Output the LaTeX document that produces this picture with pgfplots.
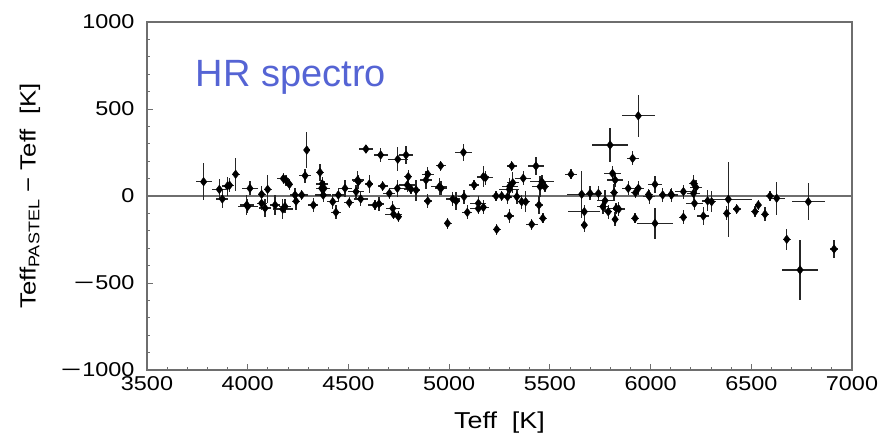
\documentclass[border=0pt]{standalone}
\usepackage{pgfplots}
\pgfplotsset{compat=1.18}
\usepackage{pgfplotstable}
\usepackage{fontspec}
\setmainfont{Liberation Sans}
\newfontfamily\labfont{Liberation Sans}[FakeStretch=1.17]
\definecolor{titleblue}{RGB}{85,100,212}
\definecolor{axgray}{RGB}{110,110,110}
\newcommand{\mn}{\scalebox{1.5}[1]{−}\kern1pt}
\pgfplotstableread{
x y ex ey
3781 82 40 105
3859 38 35 60
3874 -17 30 50
3899 57 25 55
3910 62 20 40
3940 125 20 95
3995 -52 35 60
4000 -60 50 40
4011 44 40 40
4069 10 20 50
4069 -42 25 40
4086 -70 30 50
4099 38 20 80
4136 -52 25 60
4174 -75 50 60
4185 -60 30 40
4177 100 30 30
4190 90 20 30
4207 67 20 30
4235 6 25 40
4240 -30 20 50
4268 6 30 30
4285 117 30 40
4293 264 15 105
4326 -52 25 40
4359 136 20 50
4367 44 30 50
4375 5 40 40
4379 44 30 40
4370 70 30 40
4422 -33 30 40
4438 -94 25 40
4450 6 30 40
4483 44 35 50
4504 -38 25 30
4538 25 40 40
4546 92 30 50
4549 82 25 40
4561 -17 35 40
4587 270 35 25
4604 69 20 50
4632 -52 35 30
4652 -45 25 40
4660 236 35 40
4670 57 25 30
4703 15 30 30
4720 -71 35 40
4724 -105 40 30
4743 44 40 50
4745 211 50 70
4748 -119 20 30
4786 236 35 50
4792 63 40 40
4797 111 20 40
4810 40 35 30
4836 34 20 60
4885 92 30 50
4894 125 30 40
4894 -29 20 40
4951 53 40 50
4958 174 25 30
4960 45 30 40
4992 -157 20 30
5018 -17 35 40
5035 -29 20 50
5071 251 40 50
5074 -4 30 40
5090 -94 25 40
5124 63 25 30
5145 -42 40 40
5145 -72 40 30
5170 111 30 60
5180 105 40 40
5170 -65 30 40
5233 0 20 30
5236 -192 20 30
5261 0 20 30
5290 -5 20 40
5299 38 50 50
5300 55 40 50
5299 -115 25 40
5311 172 25 30
5316 76 30 60
5336 -4 20 40
5360 -33 25 40
5368 102 40 40
5380 -33 20 60
5410 -163 30 30
5431 172 40 50
5446 -52 20 50
5451 54 40 60
5460 82 60 40
5465 -128 20 30
5475 54 20 30
5605 125 30 30
5658 10 75 135
5671 -90 80 40
5671 -167 15 40
5700 15 20 40
5741 15 20 40
5763 -61 30 40
5774 -27 40 60
5790 -90 20 40
5799 293 90 96
5811 130 40 40
5819 19 20 50
5824 92 40 40
5824 -134 15 40
5829 -71 40 30
5842 -75 30 40
5889 44 30 40
5911 216 30 40
5923 -128 20 30
5925 19 20 30
5939 44 30 40
5939 461 83 120
5994 -4 30 40
5990 8 20 30
6022 67 35 50
6022 -157 90 90
6060 6 20 40
6104 6 30 40
6102 10 20 30
6163 25 40 40
6163 -122 20 40
6213 73 20 50
6225 50 30 40
6213 15 30 40
6218 -42 40 40
6262 -115 30 50
6283 -28 30 60
6303 -33 20 60
6378 -100 20 40
6386 -19 116 215
6428 -75 20 30
6519 -90 20 30
6535 -52 15 30
6568 -105 20 40
6593 0 20 30
6626 -13 40 96
6676 -249 20 60
6742 -425 91 172
6783 -33 83 105
6911 -305 20 50
}\datatable
\begin{document}
\begin{tikzpicture}
\begin{axis}[
  scale only axis,
  width=705pt, height=348pt,
  xmin=3500, xmax=7000, ymin=-1000, ymax=1000,
  xtick={3500,4000,...,7000},
  ytick={-1000,-500,0,500,1000},
  yticklabels={\mn1000,\mn500,0,500,1000},
  xticklabels={3500,4000,4500,5000,5500,6000,6500,7000},
  minor tick num=4,
  tick align=inside,
  xtick pos=bottom, ytick pos=left,
  major tick length=6pt, minor tick length=3.5pt,
  tick style={axgray, line width=0.9pt},
  axis line style={axgray, line width=1.4pt},
  ticklabel style={font=\labfont\fontsize{20}{24}\selectfont},
  xticklabel style={yshift=-3pt},
  yticklabel style={xshift=-9pt},
  /pgf/number format/assume math mode=true,
  every axis x label/.style={at={(axis description cs:0.5,-0.1523)}, anchor=center, font=\labfont\fontsize{23}{26}\selectfont},
  every axis y label/.style={at={(axis description cs:-0.166,0.5)}, rotate=90, anchor=center, font=\labfont\fontsize{22}{26}\selectfont},
  xlabel={Teff\ \ [K]},
  ylabel={Teff\textsubscript{PASTEL} − Teff\ \ [K]},
]
\addplot[axgray, line width=1.4pt, forget plot] coordinates {(3500,0) (7000,0)};
\addplot[only marks, mark=diamond*, mark size=4.3pt, black,
  error bars/.cd, x dir=both, x explicit, y dir=both, y explicit,
  error mark=none, error bar style={line width=1.4pt, black!85}]
  table[x=x, y=y, x error=ex, y error=ey] {\datatable};
\node[anchor=west, text=titleblue, font=\fontsize{38}{42}\selectfont] at (axis cs:3725,680) {HR spectro};
\end{axis}
\pgfresetboundingbox
\useasboundingbox ([xshift=-147pt,yshift=-75pt]current axis.south west) rectangle ++(883pt,445pt);
\end{tikzpicture}
\end{document}
